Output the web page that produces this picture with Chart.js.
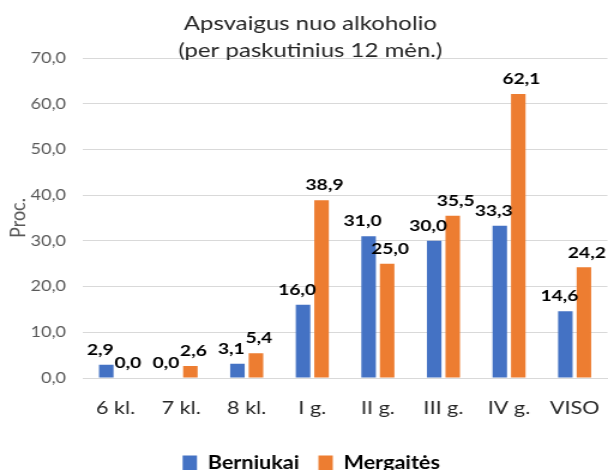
<!DOCTYPE html>
<html><head><meta charset="utf-8">
<script src="https://cdn.jsdelivr.net/npm/chart.js@4"></script>
<style>
html,body{margin:0;padding:0;background:#fff;overflow:hidden}
#wrap{width:507px;height:470px;transform:scaleX(1.19921);transform-origin:0 0}
</style>
</head><body><div id="wrap"><canvas id="c" width="507" height="470"></canvas></div>
<script>
const categories = ['6 kl.', '7 kl.', '8 kl.', 'I g.', 'II g.', 'III g.', 'IV g.', 'VISO'];
const berniukai = [2.9, 0.0, 3.1, 16.0, 31.0, 30.0, 33.3, 14.6];
const mergaites = [0.0, 2.6, 5.4, 38.9, 25.0, 35.5, 62.1, 24.2];
const seriesNames = ['Berniukai', 'Mergaitės'];
const yTicks = [0, 10, 20, 30, 40, 50, 60, 70];
const titleLines = ['Apsvaigus nuo alkoholio', '(per paskutinius 12 mėn.)'];
const yTitle = 'Proc.';

const FONT = 'Lato';
const fmt = v => v.toFixed(1).replace('.', ',');

const valueLabels = {
  id: 'valueLabels',
  afterDatasetsDraw(chart) {
    const ctx = chart.ctx;
    ctx.save();
    ctx.font = 'bold 16px ' + FONT;
    ctx.fillStyle = '#000000';
    ctx.textAlign = 'center';
    ctx.textBaseline = 'middle';
    chart.data.datasets.forEach((ds, i) => {
      const meta = chart.getDatasetMeta(i);
      const dx = i === 0 ? -5 : 2.5;
      meta.data.forEach((bar, j) => {
        ctx.fillText(fmt(ds.data[j]), bar.x + dx, bar.y - 15);
      });
    });
    ctx.restore();
  }
};

const shiftBoxes = {
  id: 'shiftBoxes',
  afterLayout(chart) {
    const l = chart.legend; l.left += 6.3; l.right += 6.3;
    const t = chart.titleBlock; t.left += 5.5; t.right += 5.5;
  }
};

new Chart(document.getElementById('c'), {
  type: 'bar',
  data: {
    labels: categories,
    datasets: [
      { label: seriesNames[0], data: berniukai, backgroundColor: '#4472C4',
        categoryPercentage: 0.565, barPercentage: 0.784 },
      { label: seriesNames[1], data: mergaites, backgroundColor: '#ED7D31',
        categoryPercentage: 0.565, barPercentage: 0.784 }
    ]
  },
  options: {
    responsive: false,
    animation: false,
    devicePixelRatio: 1,
    layout: { padding: { left: 0, right: 0.5, top: 0, bottom: -12 } },
    plugins: {
      title: {
        display: true, text: titleLines, color: '#262626',
        font: { family: FONT, size: 20, weight: 'normal', lineHeight: 1.36 },
        padding: { top: 9.5, bottom: -5.9 }
      },
      legend: {
        position: 'bottom',
        labels: {
          boxWidth: 12, boxHeight: 15, padding: 16, color: '#000000',
          font: { family: FONT, size: 18, weight: 'bold' }
        }
      },
      tooltip: { enabled: false }
    },
    scales: {
      x: {
        grid: { display: false, drawTicks: false },
        border: { display: true, color: '#D9D9D9', width: 1 },
        ticks: { color: '#262626', padding: 4, font: { family: FONT, size: 18, lineHeight: 2.889 } },
        afterFit: s => { s.height = 60; }
      },
      y: {
        min: 0, max: 70,
        afterBuildTicks: s => { s.ticks = yTicks.map(v => ({ value: v })); },
        grid: { color: '#D9D9D9', lineWidth: 1, drawTicks: false },
        border: { display: false },
        ticks: { color: '#595959', padding: 14, font: { family: FONT, size: 15 },
                 callback: v => fmt(v) },
        title: { display: true, text: yTitle, color: '#595959',
                 font: { family: FONT, size: 18 }, padding: { top: 4 } },
        afterFit: s => { s.width = 69; }
      }
    }
  },
  plugins: [valueLabels, shiftBoxes]
});
</script></body></html>
